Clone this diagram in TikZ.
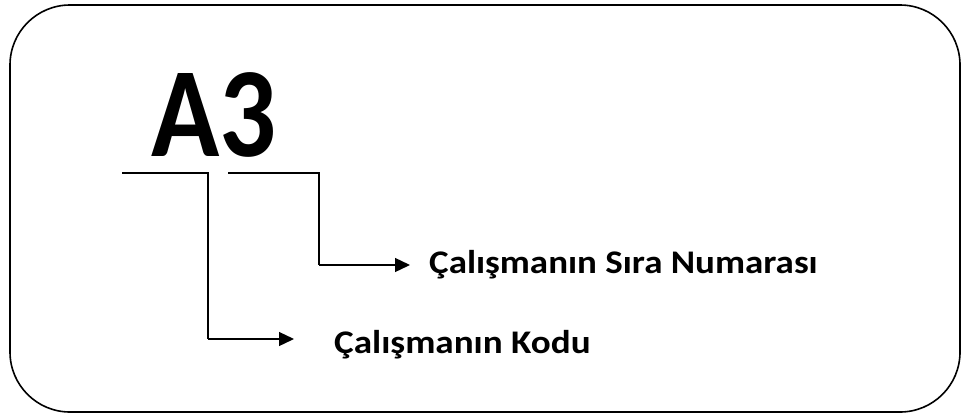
\documentclass[tikz,border=0pt]{standalone}
\usepackage{fontspec}
\setmainfont{Carlito}
\usetikzlibrary{arrows.meta}
\begin{document}
\begin{tikzpicture}[x=1pt,y=-1pt,
  frame/.style={draw=black,line width=1.6pt,rounded corners=60pt},
  link/.style={draw=black,line width=1.3pt},
  arrowlink/.style={link,-{Triangle[length=15pt,width=14pt]}},
  textlbl/.style={font=\bfseries\fontsize{33}{36}\selectfont,anchor=base west,inner sep=0pt}]
\useasboundingbox (0,0) rectangle (963,418);
\draw[frame] (10,5) rectangle (960,412);
% code letters
\node[font=\bfseries\fontsize{128}{130}\selectfont,inner sep=0pt,anchor=base west] (code) at (151,156) {\scalebox{0.88}[1]{A3}};
% brackets under the letters
\coordinate (a1) at (122,173);
\coordinate (a2) at (208,173);
\coordinate (a3) at (208,339);
\coordinate (b1) at (228,173);
\coordinate (b2) at (319,173);
\coordinate (b3) at (319,265);
\node[textlbl] (seq) at (429,273) {\scalebox{1.12}[1]{Çalışmanın Sıra Numarası}};
\node[textlbl] (kod) at (334,353) {\scalebox{1.125}[1]{Çalışmanın Kodu}};
\coordinate (seqtip) at (410,265);
\coordinate (kodtip) at (294,339);
\draw[link] (a1) -- (a2) -- (a3);
\draw[arrowlink] (a3) -- (kodtip);
\draw[link] (b1) -- (b2) -- (b3);
\draw[arrowlink] (b3) -- (seqtip);
\end{tikzpicture}
\end{document}
